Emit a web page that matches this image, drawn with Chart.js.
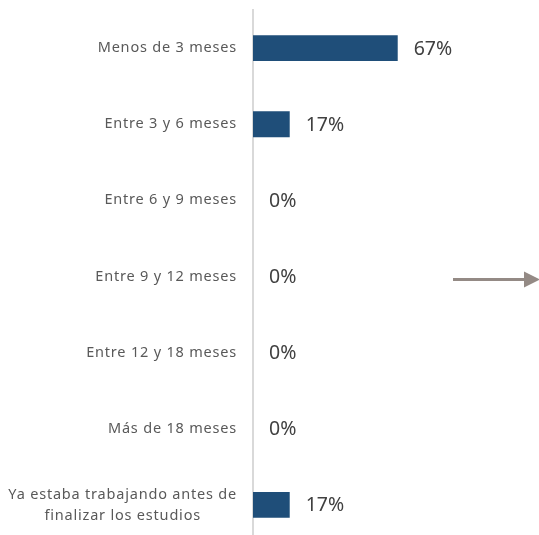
<!DOCTYPE html>
<html>
<head>
<meta charset="utf-8">
<script src="https://cdn.jsdelivr.net/npm/chart.js@4/dist/chart.umd.min.js"></script>
<style>
  html, body { margin: 0; padding: 0; background: #fff; overflow: hidden; }
  /* un poco más alto que la ventana: el eje sigue hasta el borde inferior */
  #wrap { width: 539px; height: 543px; position: relative; }
</style>
</head>
<body>
<div id="wrap"><canvas id="tiempoChart"></canvas></div>
<script>
// Categorías (eje Y)
const categorias = [
    "Menos de 3 meses",
    "Entre 3 y 6 meses",
    "Entre 6 y 9 meses",
    "Entre 9 y 12 meses",
    "Entre 12 y 18 meses",
    "Más de 18 meses",
    ["Ya estaba trabajando antes de", "finalizar los estudios"],
];

// Porcentajes por categoría
const porcentajes = [67, 17, 0, 0, 0, 0, 17];

// Plugin: etiquetas de categoría (la última va centrada en dos líneas)
const etiquetasCategoria = {
    id: "etiquetasCategoria",
    afterDraw(chart) {
        const ctx = chart.ctx;
        const yScale = chart.scales.y;
        const right = chart.chartArea.left - 16;
        ctx.save();
        ctx.font = "14.5px 'Noto Sans', sans-serif";
        ctx.letterSpacing = "0.8px";
        ctx.fillStyle = "#595959";
        ctx.textBaseline = "middle";
        categorias.forEach((cat, i) => {
            const y = yScale.getPixelForValue(i);
            if (Array.isArray(cat)) {
                const widths = cat.map((t) => ctx.measureText(t).width);
                const maxW = Math.max(...widths);
                const center = right - maxW / 2;
                ctx.textAlign = "center";
                const lh = 21;
                cat.forEach((t, j) => {
                    ctx.fillText(t, center, y + (j - (cat.length - 1) / 2) * lh);
                });
            } else {
                ctx.textAlign = "right";
                ctx.fillText(cat, right, y);
            }
        });
        ctx.restore();
    },
};

// Plugin: etiquetas de valor al final de cada barra
const etiquetasValor = {
    id: "etiquetasValor",
    afterDatasetsDraw(chart) {
        const ctx = chart.ctx;
        const meta = chart.getDatasetMeta(0);
        ctx.save();
        ctx.font = "19.5px 'Noto Sans', sans-serif";
        ctx.fillStyle = "#404040";
        ctx.textAlign = "left";
        ctx.textBaseline = "middle";
        meta.data.forEach((bar, i) => {
            ctx.fillText(porcentajes[i] + "%", bar.x + 16, bar.y + 1);
        });
        ctx.restore();
    },
};

// Plugin: flecha gris decorativa a la derecha
const flecha = {
    id: "flecha",
    afterDraw(chart) {
        const ctx = chart.ctx;
        const y = chart.scales.y.getPixelForValue(3) + 3;
        ctx.save();
        ctx.strokeStyle = "#948A85";
        ctx.fillStyle = "#948A85";
        ctx.lineWidth = 3;
        ctx.beginPath();
        ctx.moveTo(453, y);
        ctx.lineTo(526, y);
        ctx.stroke();
        ctx.beginPath();
        ctx.moveTo(524, y - 8);
        ctx.lineTo(540, y);
        ctx.lineTo(524, y + 8);
        ctx.closePath();
        ctx.fill();
        ctx.restore();
    },
};

new Chart(document.getElementById("tiempoChart"), {
    type: "bar",
    data: {
        labels: categorias,
        datasets: [
            {
                data: porcentajes,
                backgroundColor: "#1F4E79",
                borderWidth: 0,
                barPercentage: 0.34,
                categoryPercentage: 1,
            },
        ],
    },
    options: {
        indexAxis: "y",
        responsive: true,
        maintainAspectRatio: false,
        animation: false,
        layout: {
            padding: { top: 10, bottom: 0, right: 70, left: 0 },
        },
        plugins: {
            legend: { display: false },
            tooltip: { enabled: false },
        },
        scales: {
            x: {
                display: false,
                min: 0,
                max: 100,
            },
            y: {
                grid: { display: false, drawTicks: false },
                border: { display: true, color: "#D9D9D9", width: 2 },
                ticks: { display: false },
                afterFit(scale) {
                    scale.width = 253;
                    scale.paddingTop = 0;
                    scale.paddingBottom = 0;
                },
            },
        },
    },
    plugins: [etiquetasCategoria, etiquetasValor, flecha],
});
</script>
</body>
</html>
